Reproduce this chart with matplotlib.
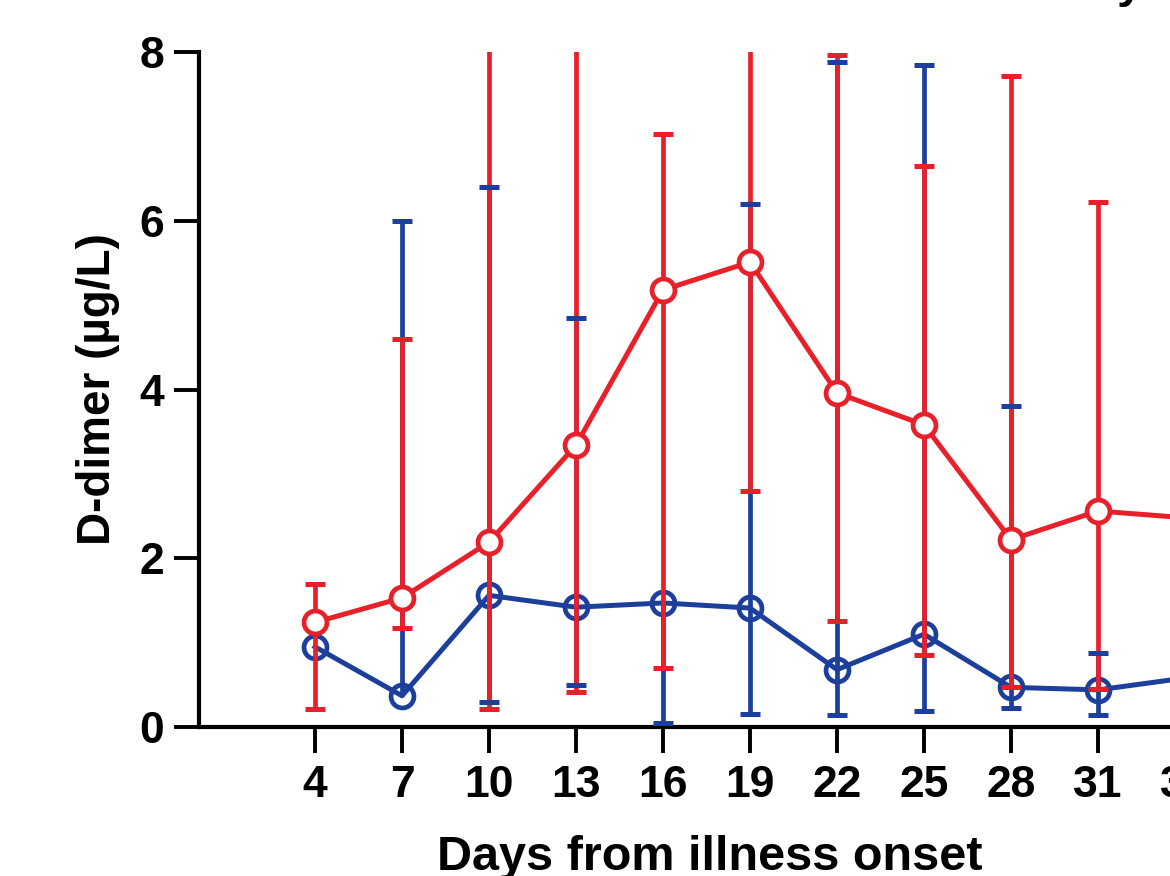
import numpy as np
import matplotlib
matplotlib.use("Agg")
import matplotlib.pyplot as plt

plt.rcParams['font.family'] = ['Liberation Sans', 'DejaVu Sans']
plt.rcParams['font.weight'] = 'bold'

# days from illness onset
days = [4, 7, 10, 13, 16, 19, 22, 25, 28, 31, 34]

# red group: mean and error range (nan = no bar visible)
red_mean = [1.24, 1.53, 2.19, 3.34, 5.18, 5.51, 3.96, 3.58, 2.22, 2.56, 2.48]
red_hi = [1.70, 4.60, 9.0, 9.0, 7.03, 9.0, 7.97, 6.65, 7.72, 6.22, np.nan]
red_lo = [0.21, 1.17, 0.21, 0.42, 0.70, 2.80, 1.26, 0.85, 0.47, 0.45, np.nan]

# blue group
blue_mean = [0.95, 0.37, 1.56, 1.42, 1.47, 1.41, 0.68, 1.10, 0.47, 0.44, 0.58]
blue_hi = [np.nan, 6.00, 6.40, 4.85, np.nan, 6.20, 7.88, 7.85, 3.80, 0.88, np.nan]
blue_lo = [np.nan, np.nan, 0.30, 0.50, 0.05, 0.16, 0.14, 0.19, 0.22, 0.14, np.nan]

xticks = [4, 7, 10, 13, 16, 19, 22, 25, 28, 31, 34]
yticks = [0, 2, 4, 6, 8]

RED = '#e8202a'
BLUE = '#1d3f9c'

W, H = 1170, 876
fig = plt.figure(figsize=(W / 100, H / 100), dpi=100)
ax = fig.add_axes([199 / W, 149 / H, 1160 / W, 675 / H])


def draw_bars(x, m, hi, lo, color, z, capz):
    x = np.array(x, float)
    m = np.array(m)
    hi = np.array(hi)
    lo = np.array(lo)
    # upper part
    ok = ~np.isnan(hi)
    ax.vlines(x[ok], m[ok], hi[ok], color=color, lw=3.4, zorder=z)
    ax.plot(x[ok], hi[ok], ls='none', marker='_', ms=15, mew=3.6, color=color, zorder=capz)
    # lower part
    ok = ~np.isnan(lo)
    ax.vlines(x[ok], lo[ok], m[ok], color=color, lw=3.4, zorder=z)
    ax.plot(x[ok], lo[ok], ls='none', marker='_', ms=15, mew=3.6, color=color, zorder=capz)


draw_bars(days, blue_mean, blue_hi, blue_lo, BLUE, 2, 6)
ax.plot(days, blue_mean, color=BLUE, lw=3.6, marker='o', ms=16.5, mew=3.4,
        mfc='none', zorder=2.5)
draw_bars(days, red_mean, red_hi, red_lo, RED, 3, 5)
ax.plot(days, red_mean, color=RED, lw=3.6, marker='o', ms=16.5, mew=3.4,
        mfc='white', zorder=4)

ax.set_xlim(0, 40)
ax.set_ylim(0, 8)
ax.set_xticks(xticks)
ax.set_yticks(yticks)
for s in ['top', 'right']:
    ax.spines[s].set_visible(False)
for s in ['left', 'bottom']:
    ax.spines[s].set_linewidth(3)
ax.tick_params(axis='both', direction='out', width=2.8, labelsize=32)
ax.tick_params(axis='y', length=18, pad=7)
ax.tick_params(axis='x', length=18.5, pad=9)
for lab in ax.get_xticklabels() + ax.get_yticklabels():
    lab.set_fontweight('bold')

ax.set_ylabel('D-dimer (µg/L)', fontsize=33, fontweight='bold', labelpad=14)
fig.text(710 / W, (H - 858) / H, 'Days from illness onset', fontsize=35,
         fontweight='bold', ha='center', va='center')

# cut-off title fragment in the top right corner
fig.text(1117 / W, 1.003, 'y', fontsize=34, fontweight='bold', ha='left', va='baseline')

fig.savefig('out.png', dpi=100)
